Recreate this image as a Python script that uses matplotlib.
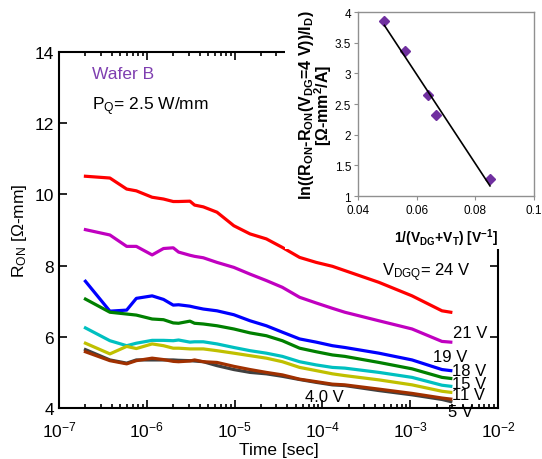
"""R_ON transient vs time for several quiescent drain-gate voltages, with inset fit."""

import matplotlib

matplotlib.use("Agg")
import matplotlib.pyplot as plt
import numpy as np
from matplotlib.patches import Rectangle
from matplotlib.ticker import LogLocator, LogFormatterMathtext, NullFormatter

plt.rcParams["font.family"] = ["Liberation Sans", "DejaVu Sans"]
plt.rcParams["mathtext.fontset"] = "custom"
plt.rcParams["mathtext.rm"] = "Liberation Sans"
plt.rcParams["mathtext.it"] = "Liberation Sans:italic"
plt.rcParams["mathtext.bf"] = "Liberation Sans:bold"

# time axis shared by all traces [s]
time_s = [2.0e-7, 3.8e-7, 5.9e-7, 7.6e-7, 1.15e-6, 1.55e-6, 2.0e-6, 2.3e-6,
          3.1e-6, 3.5e-6, 4.4e-6, 6.3e-6, 9.8e-6, 1.5e-5, 2.3e-5, 3.5e-5,
          5.5e-5, 8.5e-5, 1.3e-4, 1.8e-4, 4.4e-4, 1.05e-3, 2.3e-3, 2.9e-3]

# R_ON [ohm-mm] for each V_DGQ
r_24v = [10.51, 10.46, 10.15, 10.10, 9.92, 9.87, 9.80, 9.80, 9.81, 9.70, 9.65, 9.50,
         9.12, 8.89, 8.75, 8.51, 8.23, 8.09, 7.98, 7.86, 7.53, 7.15, 6.73, 6.69]
r_21v = [9.01, 8.86, 8.54, 8.54, 8.30, 8.48, 8.50, 8.38, 8.29, 8.26, 8.22, 8.09,
         7.95, 7.76, 7.58, 7.39, 7.11, 6.95, 6.80, 6.69, 6.45, 6.22, 5.87, 5.85]
r_19v = [7.56, 6.72, 6.75, 7.08, 7.15, 7.05, 6.89, 6.90, 6.86, 6.83, 6.78, 6.73,
         6.62, 6.45, 6.31, 6.13, 5.94, 5.85, 5.75, 5.70, 5.54, 5.35, 5.08, 5.05]
r_18v = [7.06, 6.69, 6.64, 6.61, 6.50, 6.48, 6.39, 6.38, 6.44, 6.38, 6.36, 6.31,
         6.22, 6.11, 6.03, 5.89, 5.68, 5.58, 5.49, 5.45, 5.28, 5.10, 4.86, 4.83]
r_15v = [6.25, 5.89, 5.75, 5.82, 5.90, 5.90, 5.89, 5.91, 5.85, 5.86, 5.86, 5.80,
         5.70, 5.61, 5.54, 5.45, 5.30, 5.21, 5.14, 5.12, 5.00, 4.86, 4.64, 4.61]
r_11v = [5.82, 5.52, 5.73, 5.67, 5.80, 5.75, 5.68, 5.68, 5.66, 5.66, 5.66, 5.61,
         5.54, 5.47, 5.40, 5.30, 5.14, 5.05, 4.96, 4.91, 4.79, 4.65, 4.47, 4.44]
r_5v = [5.58, 5.33, 5.24, 5.33, 5.40, 5.36, 5.31, 5.30, 5.32, 5.35, 5.30, 5.28,
        5.17, 5.08, 5.00, 4.93, 4.81, 4.74, 4.67, 4.65, 4.53, 4.41, 4.28, 4.25]
r_4v = [5.64, 5.35, 5.26, 5.35, 5.35, 5.35, 5.35, 5.34, 5.33, 5.32, 5.30, 5.19,
        5.08, 5.00, 4.96, 4.89, 4.80, 4.72, 4.65, 4.63, 4.49, 4.37, 4.24, 4.18]

traces = [
    (r_24v, "#ff0000"),
    (r_21v, "#c000c0"),
    (r_19v, "#0000ff"),
    (r_18v, "#008000"),
    (r_15v, "#00c0c0"),
    (r_11v, "#c0c000"),
    (r_4v, "#404040"),
    (r_5v, "#a03000"),
]

# curve labels: (text, time, R_ON)
curve_labels = [
    (r"V$_{\mathrm{DGQ}}$= 24 V", 4.8e-4, 7.82),
    ("21 V", 3.1e-3, 6.13),
    ("19 V", 1.8e-3, 5.46),
    ("18 V", 3.0e-3, 5.04),
    ("15 V", 3.0e-3, 4.70),
    ("11 V", 3.0e-3, 4.37),
    ("5 V", 2.7e-3, 3.89),
    ("4.0 V", 6.3e-5, 4.31),
]

# inset: 1/(V_DG+V_T) vs ln((R_ON - R_ON(4 V))/I_D)
inv_v = [0.0490, 0.0559, 0.0637, 0.0665, 0.0850]
ln_r = [3.85, 3.37, 2.64, 2.32, 1.27]

fig = plt.figure(figsize=(5.42, 4.60), dpi=100)
ax = fig.add_axes([59 / 542, 51 / 460, 439 / 542, 356 / 460])

for vals, col in traces:
    ax.plot(time_s, vals, color=col, linewidth=2.3, solid_joinstyle="round")

ax.set_xscale("log")
ax.set_xlim(1e-7, 1e-2)
ax.set_ylim(4, 14)
ax.set_yticks([4, 6, 8, 10, 12, 14])
ax.xaxis.set_major_locator(LogLocator(base=10, numticks=10))
ax.xaxis.set_major_formatter(LogFormatterMathtext())
ax.xaxis.set_minor_locator(LogLocator(base=10, subs=np.arange(2, 10), numticks=20))
ax.xaxis.set_minor_formatter(NullFormatter())
ax.tick_params(which="both", direction="in", top=True, right=True, labelsize=12.5,
               width=1.2, colors="black")
ax.tick_params(which="major", length=6)
ax.tick_params(which="minor", length=3)
ax.tick_params(axis="x", pad=8)
for sp in ax.spines.values():
    sp.set_linewidth(1.5)

ax.set_xlabel("Time [sec]", fontsize=12.5, labelpad=2)
ax.set_ylabel(r"R$_{\mathrm{ON}}$ [Ω-mm]", fontsize=12.5, labelpad=4)

ax.text(0.075, 0.941, "Wafer B", transform=ax.transAxes, color="#7f3fb0",
        fontsize=12.5, va="center")
ax.text(0.075, 0.848, r"P$_{\mathrm{Q}}$= 2.5 W/mm", transform=ax.transAxes,
        fontsize=12.5, va="center")

for txt, tx, ty in curve_labels:
    ax.text(tx, ty, txt, fontsize=12, va="center", ha="left")

# white backing for the pasted inset
fig.patches.append(Rectangle((285 / 542, 1 - 250 / 460), 1, 1,
                             transform=fig.transFigure, facecolor="white",
                             edgecolor="none", zorder=1))

axi = fig.add_axes([358 / 542, 1 - 197 / 460, 176 / 542, 184 / 460], zorder=2)
axi.plot(inv_v, ln_r, linestyle="none", marker="D", markersize=5,
         color="#7030a0")
coef = np.polyfit(inv_v, ln_r, 1)
fit_x = np.array([min(inv_v), max(inv_v)])
axi.plot(fit_x, np.polyval(coef, fit_x), color="black", linewidth=1.2)
axi.set_xlim(0.04, 0.1)
axi.set_ylim(1, 4)
axi.set_xticks([0.04, 0.06, 0.08, 0.1])
axi.set_xticklabels(["0.04", "0.06", "0.08", "0.1"])
axi.set_yticks([1, 1.5, 2, 2.5, 3, 3.5, 4])
axi.set_yticklabels(["1", "1.5", "2", "2.5", "3", "3.5", "4"])
axi.tick_params(direction="out", length=3, color="#909090", labelsize=8.5, pad=3)
axi.tick_params(axis="y", pad=2)
for sp in axi.spines.values():
    sp.set_color("#909090")
    sp.set_linewidth(1.0)
axi.set_xlabel(r"1/(V$_{\mathbf{DG}}$+V$_{\mathbf{T}}$) [V$^{\mathbf{-1}}$]",
               fontsize=10, fontweight="bold")
axi.xaxis.set_label_coords(0.5, -0.165)
axi.set_ylabel(r"ln((R$_{\mathbf{ON}}$-R$_{\mathbf{ON}}$(V$_{\mathbf{DG}}$=4 V))/I$_{\mathbf{D}}$)"
               "\n" r"[Ω-mm$^{\mathbf{2}}$/A]", fontsize=11.5, fontweight="bold",
               linespacing=0.8)
axi.yaxis.set_label_coords(-0.135, 0.5)

fig.savefig("out.png", dpi=100)
